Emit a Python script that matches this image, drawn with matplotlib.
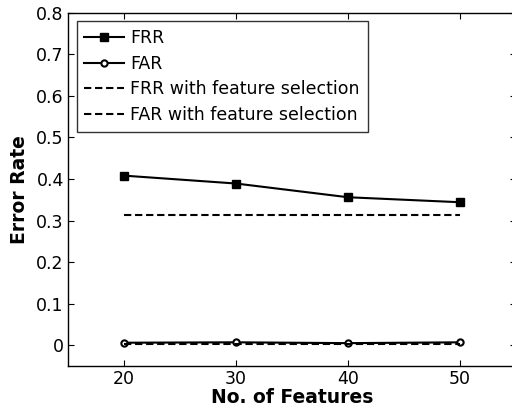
import numpy as np
import matplotlib
matplotlib.use("Agg")
import matplotlib.pyplot as plt

plt.rcParams['font.family'] = ['DejaVu Sans']

features = [20, 30, 40, 50]
frr = [0.408, 0.389, 0.356, 0.344]
far = [0.006, 0.007, 0.005, 0.007]
frr_fs = [0.313, 0.313, 0.313, 0.313]
far_fs = [0.004, 0.004, 0.004, 0.004]

fig = plt.figure(figsize=(5.12, 4.16), dpi=100)
ax = fig.add_axes([68/512, (416-366)/416, (516-68)/512, (366-12.7)/416])

ax.plot(features, frr, 'k-', marker='s', ms=5.5, mfc='k', lw=1.5, label='FRR')
ax.plot(features, far, 'k-', marker='o', ms=4.5, mfc='white', mew=1.5, lw=1.5, label='FAR')
ax.plot(features, frr_fs, 'k--', lw=1.5, dashes=(3.5, 1.8), label='FRR with feature selection')
ax.plot(features, far_fs, 'k--', lw=1.5, dashes=(3.5, 1.8), label='FAR with feature selection')

ax.set_xlim(15, 55)
ax.set_ylim(-0.05, 0.8)
ax.set_xticks([20, 30, 40, 50])
ax.set_yticks(np.arange(0, 0.81, 0.1))
ax.set_yticklabels(['0', '0.1', '0.2', '0.3', '0.4', '0.5', '0.6', '0.7', '0.8'])
ax.tick_params(direction='in', top=True, right=True, labelsize=12.5, length=4, pad=3)
for s in ax.spines.values():
    s.set_linewidth(1.0)
ax.set_xlabel('No. of Features', fontsize=13.5, fontweight='bold', labelpad=0)
ax.set_ylabel('Error Rate', fontsize=13.5, fontweight='bold', labelpad=5)

leg = ax.legend(loc='upper left', fontsize=12.5, frameon=True, fancybox=False,
                edgecolor='k', handlelength=2.25, handletextpad=0.4,
                borderaxespad=0.5, labelspacing=0.44, borderpad=0.45)
leg.get_frame().set_linewidth(1.0)

fig.savefig('out.png', dpi=100)
